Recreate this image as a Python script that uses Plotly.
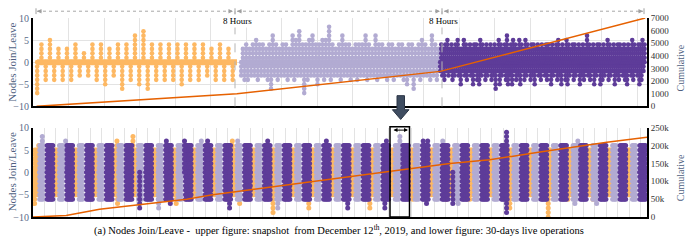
import plotly.graph_objects as go

# ---------------- colours / fonts ----------------
ORANGE = '#fdb863'
LIGHT = '#b2abd2'
DARK = '#5e3c99'
CUM = '#e66101'
SERIF = 'Liberation Serif, Times New Roman, serif'

# ---------------- data: upper figure (snapshot, 3 x 8-hour windows) ----------------
snap_windows = [(0.118, 5.86), (5.86, 11.46), (11.46, 17.24)]   # x-units of the snapshot axis

snap_orange_join = [4, 5, 3, 3, 4, 2, 4, 4, 3, 4, 4, 6, 7, 4, 4, 4, 4, 4, 4, 4, 3, 4, 3]
snap_orange_leave = [-7, -4, -4, -4, -4, -3, -3, -4, -5, -3, -6, -4, -5, -6, -4, -4, -4, -5,
                     -4, -4, -3, -4, -4, -4]

snap_light_join = [3, 4, 3, 4, 5, 4, 4, 3, 4, 6,
                   4, 3, 4, 4, 3, 6, 5, 7, 4, 4,
                   5, 6, 4, 4, 5, 5, 8, 4, 3, 4,
                   6, 4, 4, 3, 4, 4, 4, 6, 4, 3,
                   6, 4, 4, 3, 4, 4, 3, 4, 4, 3,
                   4, 4, 3, 4, 5, 4, 3, 6, 4, 3]
snap_light_leave = [-3, -4, -4, -3, -3, -4, -3, -3, -4, -6,
                    -3, -4, -3, -3, -4, -3, -4, -3, -3, -7,
                    -4, -3, -3, -5, -3, -4, -3, -4, -3, -3,
                    -4, -3, -3, -4, -3, -4, -3, -3, -4, -3,
                    -3, -4, -3, -3, -4, -3, -4, -3, -3, -4,
                    -5, -3, -6, -3, -4, -3, -3, -4, -3, -4]

snap_dark_join = [4, 3, 4, 5, 3, 4, 3, 4, 5, 3,
                  3, 5, 4, 3, 4, 3, 4, 4, 3, 5,
                  4, 3, 4, 3, 4, 3, 4, 3, 5, 4,
                  3, 4, 6, 3, 4, 5, 4, 3, 5, 4,
                  3, 5, 4, 3, 4, 4, 3, 4, 3, 4,
                  3, 4, 4, 3, 4, 3, 4, 5, 3, 4,
                  3, 5, 4, 3, 4, 4, 3, 4, 3, 4,
                  3, 6, 4, 3, 4, 3, 4, 4, 3, 4,
                  3, 5, 4, 3, 4, 3, 4, 4, 3, 4,
                  3, 4, 3, 5, 4, 3, 4, 4, 5, 4]
snap_dark_leave = [-2, -3, -4, -2, -3, -2, -4, -3, -2, -3,
                   -5, -2, -3, -4, -2, -3, -5, -2, -4, -5,
                   -3, -2, -4, -3, -2, -4, -3, -6, -2, -5,
                   -3, -2, -4, -5, -3, -5, -2, -4, -3, -5,
                   -2, -4, -3, -2, -4, -3, -5, -2, -3, -4,
                   -2, -3, -4, -2, -5, -3, -2, -4, -3, -5,
                   -2, -4, -5, -3, -2, -4, -3, -2, -5, -3,
                   -4, -2, -3, -4, -2, -5, -3, -2, -5, -4,
                   -3, -2, -4, -3, -2, -5, -3, -4, -2, -3,
                   -4, -5, -2, -3, -4, -2, -3, -5, -4, -2]

snap_cum_x = [0.10, 5.74, 11.46, 15.03, 17.23]
snap_cum_y = [0, 1000, 2770, 5400, 7000]

# ---------------- data: lower figure (30-day live operations) ----------------
live_days = list(range(31))
live_phase_names = ['orange', 'light', 'dark']
# window of each daily phase, as fraction of a day (first / last event)
live_phase_window = {'orange': (0.08, 0.25), 'light': (0.34, 0.50), 'dark': (0.72, 1.00)}
live_phase_join = {'orange': 5, 'light': 6, 'dark': 6}
live_phase_leave = {'orange': -5, 'light': -6, 'dark': -6}

# isolated larger events (day position, window, value)
live_out_day = [0.47, 0.29, 1.65, 4.25, 5.06, 6.75, 7.67, 8.84, 8.52, 10.36, 10.09, 11.88, 14.85,
                18.57, 17.89, 19.75, 19.98, 20.74, 23.97, 27.58,
                0.08, 4.28, 5.40, 6.36, 7.25, 6.95, 9.95, 10.46, 12.15, 12.39, 13.96, 15.93,
                17.05, 17.81, 19.22, 19.92, 20.93, 21.25, 21.52, 22.11, 23.97, 24.14, 26.08,
                27.08, 27.43, 28.34, 28.53]
live_out_win = ['light', 'orange', 'light', 'orange', 'orange', 'dark', 'dark', 'dark', 'light',
                'light', 'orange', 'dark', 'dark', 'light', 'dark', 'dark', 'dark', 'light',
                'dark', 'light',
                'orange', 'orange', 'dark', 'light', 'orange', 'dark', 'dark', 'orange', 'orange',
                'light', 'orange', 'dark', 'orange', 'dark', 'orange', 'dark', 'orange', 'dark',
                'light', 'orange', 'dark', 'orange', 'orange', 'orange', 'light', 'orange', 'light']
live_out_val = [8, 6, 7, 7, 8, 7, 7, 7, 7, 7, 7, 7, 7, 8, 7, 7, 7, 7, 9, 7,
                -7, -7, -8, -8, -7, -7, -8, -7, -9, -8, -8, -8, -8, -8, -6, -7, -6, -7, -7, -6,
                -9, -8, -10, -6, -7, -6, -7]

live_cum_x = [0, 1.68, 3.37, 5.40, 7.78, 9.09, 10.46, 11.95, 14.54, 17.05, 19.07, 21.1, 23.12,
              25.66, 27.33, 29.05, 31.08]
live_cum_y = [0, 4000, 22000, 34000, 50000, 62000, 72000, 81000, 100000, 119000, 135000, 150000,
              160000, 182000, 196000, 209000, 223000]

# ---------------- geometry helpers ----------------
W, H = 689, 243
ML, MR, MT, MB = 33, 42, 12, 26
LIVE_RANGE = [0, 31.08]
LIVE_PX_PER_DAY = (W - ML - MR) / (LIVE_RANGE[1] - LIVE_RANGE[0])


def PX(x):
    return (x - ML) / (W - ML - MR)


def PY(y):
    return (H - MB - y) / (H - MT - MB)


COLORS = {'orange': ORANGE, 'light': LIGHT, 'dark': DARK}


def stems(xs, vals):
    lx, ly, mx, my = [], [], [], []
    for x, v in zip(xs, vals):
        lx += [x, x, None]
        ly += [0, v, None]
        s = 1 if v >= 0 else -1
        for k in range(0, v + s, s):
            mx.append(x)
            my.append(k)
    return lx, ly, mx, my


fig = go.Figure()


def add_group(xref, yref, lx, ly, mx, my, color, band=None, msize=5):
    if band is not None:
        fig.add_trace(go.Scatter(x=list(band), y=[0, 0], mode='lines',
                                 line=dict(color=color, width=6), xaxis=xref, yaxis=yref,
                                 hoverinfo='skip', showlegend=False))
    fig.add_trace(go.Scatter(x=lx, y=ly, mode='lines', line=dict(color=color, width=1.5),
                             xaxis=xref, yaxis=yref, hoverinfo='skip', showlegend=False))
    fig.add_trace(go.Scatter(x=mx, y=my, mode='markers',
                             marker=dict(color=color, size=msize, line=dict(width=0)),
                             xaxis=xref, yaxis=yref, hoverinfo='skip', showlegend=False))


# ---- upper figure ----
snap_sets = [(snap_orange_join, snap_orange_leave, ORANGE),
             (snap_light_join, snap_light_leave, LIGHT),
             (snap_dark_join, snap_dark_leave, DARK)]
for (j, l, c), (a, b) in zip(snap_sets, snap_windows):
    n = len(l)
    step = (b - a) / n
    xl = [a + i * step for i in range(len(l))]
    xj = [a + (i + 0.5) * step for i in range(len(j))]
    lx1, ly1, mx1, my1 = stems(xj, j)
    lx2, ly2, mx2, my2 = stems(xl, l)
    add_group('x', 'y', lx1 + lx2, ly1 + ly2, mx1 + mx2, my1 + my2, c, band=(a, b - step / 2),
              msize=4.6)

fig.add_trace(go.Scatter(x=snap_cum_x, y=snap_cum_y, mode='lines', line=dict(color=CUM, width=1.5),
                         xaxis='x', yaxis='y2', hoverinfo='skip', showlegend=False))

# ---- lower figure ----
for ph in live_phase_names:
    lx, ly, mx, my = [], [], [], []
    f0, f1 = live_phase_window[ph]
    width_px = (f1 - f0) * LIVE_PX_PER_DAY
    nst = max(2, int(round(width_px / 1.4)) + 1)
    for d in live_days:
        a, b = d + f0, d + f1
        xs = [a + (b - a) * k / (nst - 1) for k in range(nst)]
        r = stems(xs, [live_phase_join[ph]] * nst)
        r2 = stems(xs, [live_phase_leave[ph]] * nst)
        lx += r[0] + r2[0]; ly += r[1] + r2[1]; mx += r[2] + r2[2]; my += r[3] + r2[3]
    ox = [x for x, w in zip(live_out_day, live_out_win) if w == ph]
    ov = [v for v, w in zip(live_out_val, live_out_win) if w == ph]
    r = stems(ox, ov)
    lx += r[0]; ly += r[1]; mx += r[2]; my += r[3]
    add_group('x2', 'y3', lx, ly, mx, my, COLORS[ph])

fig.add_trace(go.Scatter(x=live_cum_x, y=live_cum_y, mode='lines', line=dict(color=CUM, width=1.5),
                         xaxis='x2', yaxis='y4', hoverinfo='skip', showlegend=False))

# ---------------- layout ----------------
TOP_DOM = [PY(103), 1.0]
BOT_DOM = [0.0, PY(125)]
grid = '#e3e3e3'
tickc = '#5a6a88'
titc = '#4f5f7f'

common_x = dict(showgrid=True, gridcolor=grid, gridwidth=1, showticklabels=False, ticks='',
                zeroline=False, showline=True, linecolor='black', linewidth=2)
common_y = dict(range=[-10, 10], dtick=5, showgrid=True, gridcolor=grid, zeroline=False,
                showline=True, linecolor='black', linewidth=2, ticks='',
                tickfont=dict(family=SERIF, size=10, color=tickc))
right_y = dict(showgrid=False, zeroline=False, showline=True, linecolor='black', linewidth=2,
               ticks='', tickfont=dict(family=SERIF, size=9, color='#333'), side='right')

fig.update_layout(
    width=W, height=H, margin=dict(l=ML, r=MR, t=MT, b=MB),
    paper_bgcolor='white', plot_bgcolor='white', showlegend=False,
    xaxis=dict(range=[0, 17.28], dtick=1, tick0=0, anchor='y', domain=[0, 1], **common_x),
    yaxis=dict(domain=TOP_DOM, anchor='x', **common_y),
    yaxis2=dict(overlaying='y', anchor='x', range=[0, 7000], dtick=1000, **right_y),
    xaxis2=dict(range=LIVE_RANGE, dtick=0.5805, tick0=0, anchor='y3', domain=[0, 1], **common_x),
    yaxis3=dict(domain=BOT_DOM, anchor='x2', **common_y),
    yaxis4=dict(overlaying='y3', anchor='x2', range=[0, 250000],
                tickvals=[0, 50000, 100000, 150000, 200000, 250000],
                ticktext=['0', '50k', '100k', '150k', '200k', '250k'], **right_y),
)

shapes = []
annos = []
# header: dotted 8-hour spans
hdr_y = PY(5)
spans = [(37, 233), (237, 440), (444, 643)]
for a, b in spans:
    shapes.append(dict(type='line', xref='paper', yref='paper', x0=PX(a), x1=PX(b), y0=hdr_y, y1=hdr_y,
                       line=dict(color='#a8a8a8', width=1, dash='dot')))
    for x, off in ((a, 6), (b, -6)):
        annos.append(dict(xref='paper', yref='paper', x=PX(x), y=hdr_y, ax=off, ay=0,
                          showarrow=True, arrowhead=2, arrowsize=0.9, arrowwidth=1,
                          arrowcolor='#a0a0a0', text=''))
for x in (36, 235, 442, 644):
    shapes.append(dict(type='line', xref='paper', yref='paper', x0=PX(x), x1=PX(x),
                       y0=PY(2), y1=PY(8), line=dict(color='#a0a0a0', width=1)))
for x in (235, 442):
    shapes.append(dict(type='line', xref='paper', yref='paper', x0=PX(x), x1=PX(x),
                       y0=PY(103), y1=PY(5), line=dict(color='#b5b5b5', width=1, dash='dash')))
for x in (237, 443):
    annos.append(dict(xref='paper', yref='paper', x=PX(x), y=PY(15), text='8 Hours',
                      showarrow=False, font=dict(family=SERIF, size=9, color='black'),
                      xanchor='center', yanchor='middle', bgcolor='white'))

# down arrow between panels
arrow_path = 'M {a},{b} L {c},{b} L {c},{d} L {e},{d} L {f},{g} L {h},{d} L {i},{d} Z'.format(
    a=PX(397), b=PY(92), c=PX(404.5), d=PY(106.5), e=PX(409), f=PX(400.7), g=PY(116.5),
    h=PX(392.4), i=PX(397))
shapes.append(dict(type='path', xref='paper', yref='paper', path=arrow_path,
                   fillcolor='#3f4d61', line=dict(color='#2c3646', width=1)))
# selection box in lower panel
shapes.append(dict(type='rect', xref='paper', yref='paper', x0=PX(390), x1=PX(409.5),
                   y0=PY(217), y1=PY(124), line=dict(color='black', width=1.5)))
annos.append(dict(xref='paper', yref='paper', x=PX(408), y=PY(127.5), ax=-16, ay=0,
                  showarrow=True, arrowhead=2, startarrowhead=2, arrowside='end+start',
                  arrowsize=0.8, arrowwidth=1, arrowcolor='black', text=''))

# axis titles
for yc, yr in ((58, 64), (171, 177)):
    annos.append(dict(xref='paper', yref='paper', x=PX(12), y=PY(yc), text='Nodes Join/Leave',
                      textangle=-90, showarrow=False, xanchor='center', yanchor='middle',
                      font=dict(family=SERIF, size=11, color=titc)))
    annos.append(dict(xref='paper', yref='paper', x=PX(680), y=PY(yr), text='Cumulative',
                      textangle=-90, showarrow=False, xanchor='center', yanchor='middle',
                      font=dict(family=SERIF, size=10, color=titc)))

# caption
annos.append(dict(xref='paper', yref='paper', x=PX(339), y=PY(230),
                  text='(a) Nodes Join/Leave -  upper figure: snapshot  from December 12<sup>th</sup>, 2019, '
                       'and lower figure: 30-days live operations',
                  showarrow=False, xanchor='center', yanchor='middle',
                  font=dict(family=SERIF, size=10.5, color='black')))

fig.update_layout(shapes=shapes, annotations=annos)
fig.write_html('out.html', config={'displayModeBar': False},
               post_script="document.body.style.margin='0px';")
